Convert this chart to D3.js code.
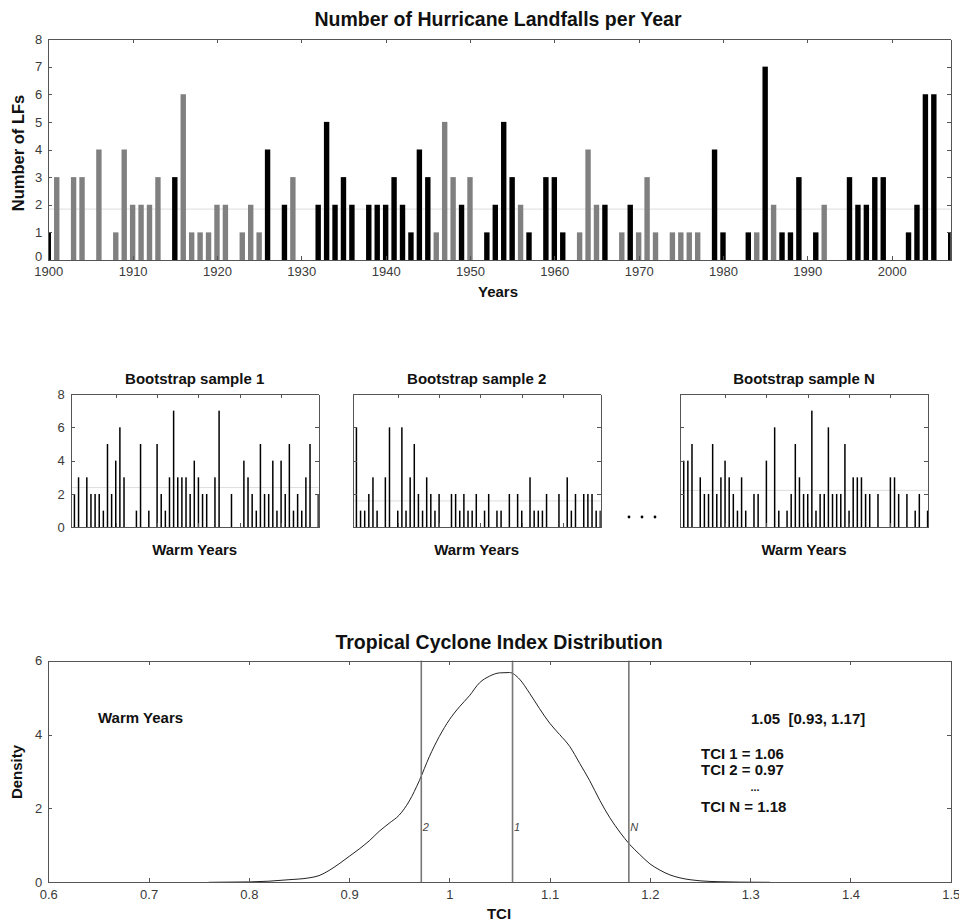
<!DOCTYPE html>
<html>
<head>
<meta charset="utf-8">
<script src="https://cdn.jsdelivr.net/npm/d3@7"></script>
<style>
body { margin: 0; background: #fff; }
svg { font-family: "Liberation Sans", Arial, sans-serif; }
.axis path, .axis line { stroke: #555; shape-rendering: crispEdges; }
.axis text { fill: #3a3a3a; font-size: 13px; font-family: "Liberation Sans", Arial, sans-serif; }
.title { font-weight: bold; font-size: 19.5px; text-anchor: middle; fill: #111; }
.small-title { font-weight: bold; font-size: 15px; text-anchor: middle; fill: #111; }
.lab { font-weight: bold; font-size: 15px; text-anchor: middle; fill: #111; }
.note { font-weight: bold; font-size: 15px; fill: #111; white-space: pre; }
</style>
</head>
<body>
<svg width="959" height="923"></svg>
<script>
// landfalls per year, 1900..2007
var firstYear = 1900, lastYear = 2007;
var landfalls = [1,3,0,3,3,0,4,0,1,4, 2,2,2,3,0,3,6,1,1,1, 2,2,0,1,2,1,4,0,2,3,
                 0,0,2,5,2,3,2,0,2,2, 2,3,2,1,4,3,1,5,3,2, 3,0,1,2,5,3,2,1,0,3,
                 3,1,0,1,4,2,2,0,1,2, 1,3,1,0,1,1,1,1,0,4, 1,0,0,1,1,7,2,1,1,3,
                 0,1,2,0,0,3,2,2,3,3, 0,0,1,2,6,6,0,1];
var warmYears = [1900,1915,1926,1928,1932,1933,1934,1935,1936,1938,1939,1940,1941,1942,
                 1943,1944,1945,1949,1952,1953,1954,1955,1957,1959,1960,1961,1966,1969,
                 1979,1980,1983,1985,1987,1988,1989,1991,1995,1996,1997,1998,1999,2002,
                 2003,2004,2005,2007];
var yearTicks = [1900,1910,1920,1930,1940,1950,1960,1970,1980,1990,2000];

// bootstrap samples of warm years
var sampleTitles = ["Bootstrap sample 1", "Bootstrap sample 2", "Bootstrap sample N"];
var sample1 = [2,3,0,3,2,2,2,1,5,2, 4,6,3,0,0,1,5,0,1,0, 5,2,1,3,7,3,3,3,2,4,
               3,2,2,0,3,7,0,0,2,0, 0,4,3,2,1,5,2,2,4,1, 4,2,5,1,2,1,3,5,0,2];
var sample2 = [6,1,1,2,3,1,0,3,6,0, 1,6,1,3,5,2,1,3,2,1, 2,0,0,2,2,1,2,1,1,2,
               0,1,2,0,1,1,0,2,0,2, 1,0,3,1,1,1,2,0,0,2, 0,3,1,2,0,2,2,2,1,1];
var sampleN = [4,4,5,0,3,2,2,5,2,3, 4,3,2,1,3,1,0,2,2,0, 4,0,6,1,0,1,2,5,3,2,
               2,7,1,2,2,6,2,2,2,5, 1,3,3,3,2,2,0,2,0,0, 3,3,2,0,2,0,1,2,0,1];
var sampleTicks = [0,2,4,6,8];

// TCI density
var tci =     [0.76,0.78,0.80,0.82,0.84,0.86,0.87,0.88,0.89,0.90,0.91,0.92,0.93,0.94,0.95,0.96,
               0.97,0.98,0.99,1.00,1.01,1.02,1.03,1.04,1.05,1.06,1.07,1.08,1.09,1.10,1.11,1.12,
               1.13,1.14,1.15,1.16,1.17,1.18,1.19,1.20,1.21,1.22,1.23,1.24,1.25,1.27,1.29,1.32];
var density = [0,0.005,0.01,0.03,0.07,0.12,0.18,0.32,0.5,0.7,0.9,1.12,1.38,1.6,1.82,2.2,
               2.75,3.4,3.95,4.4,4.75,5.05,5.4,5.58,5.67,5.68,5.5,5.12,4.7,4.31,4.0,3.68,
               3.22,2.75,2.22,1.75,1.36,1.02,0.75,0.5,0.33,0.2,0.12,0.07,0.04,0.015,0.005,0];
var tciMarks = [1.063, 0.972, 1.179];
var tciMarkLabels = ["1", "2", "N"];
var tciTicks = [0.6,0.7,0.8,0.9,1.0,1.1,1.2,1.3,1.4,1.5];
var densityTicks = [0,2,4,6];
var tciNotes = ["TCI 1 = 1.06", "TCI 2 = 0.97", "TCI N = 1.18"];

var svg = d3.select("svg");

function frame(g, x, y, xt, yt, xfmt, yfmt, showY) {
    var x0 = x.range()[0], x1 = x.range()[1], y0 = y.range()[0], y1 = y.range()[1];
    g.append("g").attr("class", "axis").attr("transform", "translate(0," + y0 + ")")
        .call(d3.axisBottom(x).tickValues(xt).tickFormat(xfmt).tickSize(-4).tickSizeOuter(0).tickPadding(7));
    g.append("g").attr("class", "axis").attr("transform", "translate(0," + y1 + ")")
        .call(d3.axisTop(x).tickValues(xt).tickFormat("").tickSize(-4).tickSizeOuter(0));
    var left = g.append("g").attr("class", "axis").attr("transform", "translate(" + x0 + ",0)")
        .call(d3.axisLeft(y).tickValues(yt).tickFormat(showY ? yfmt : "").tickSize(-4).tickSizeOuter(0).tickPadding(6));
    g.append("g").attr("class", "axis").attr("transform", "translate(" + x1 + ",0)")
        .call(d3.axisRight(y).tickValues(yt).tickFormat("").tickSize(-4).tickSizeOuter(0));
    return left;
}

// TOP: landfalls per year
var topG = svg.append("g");
var xYear = d3.scaleLinear().domain([firstYear, lastYear]).range([48.3, 950.7]);
var yLF = d3.scaleLinear().domain([0, 8]).range([260, 39]);
var yearData = landfalls.map(function(v, i) { return {year: firstYear + i, value: v}; });
var barW = (xYear(1) - xYear(0)) * 0.64;

svg.append("clipPath").attr("id", "clipTop").append("rect")
    .attr("x", xYear.range()[0]).attr("y", yLF.range()[1])
    .attr("width", xYear.range()[1] - xYear.range()[0]).attr("height", yLF.range()[0] - yLF.range()[1]);

topG.append("line")
    .attr("x1", xYear.range()[0]).attr("x2", xYear.range()[1])
    .attr("y1", yLF(d3.mean(landfalls))).attr("y2", yLF(d3.mean(landfalls)))
    .attr("stroke", "#ddd").attr("stroke-width", 1);

topG.append("g").attr("clip-path", "url(#clipTop)")
    .selectAll("rect")
    .data(yearData.filter(function(d) { return d.value > 0; }))
    .enter()
    .append("rect")
    .attr("x", function(d) { return xYear(d.year) - barW / 2; })
    .attr("width", barW)
    .attr("y", function(d) { return yLF(d.value); })
    .attr("height", function(d) { return yLF(0) - yLF(d.value); })
    .attr("fill", function(d) { return warmYears.indexOf(d.year) >= 0 ? "#000" : "#808080"; });

var topLeft = frame(topG, xYear, yLF, yearTicks, d3.range(0, 9), d3.format("d"), d3.format("d"), true);
// zero label sits a little above the corner, as in the original
topLeft.selectAll(".tick text").filter(function(d) { return d === 0; }).attr("y", -4);

topG.append("text").attr("class", "title").attr("x", 498).attr("y", 26).text("Number of Hurricane Landfalls per Year");
topG.append("text").attr("class", "lab").attr("x", 498).attr("y", 297).text("Years");
topG.append("text").attr("class", "lab").style("font-size", "16.5px")
    .attr("transform", "translate(24,153) rotate(-90)").text("Number of LFs");

// MIDDLE: bootstrap samples
var samples = [sample1, sample2, sampleN];
var panelLeft = [70.7, 352.7, 680];
var panelW = 248;
var ySample = d3.scaleLinear().domain([0, 8]).range([527.3, 394]);

samples.forEach(function(sample, k) {
    var g = svg.append("g");
    var xs = d3.scaleLinear().domain([-0.9, sample.length - 0.9]).range([panelLeft[k], panelLeft[k] + panelW]);
    var bw = (xs(1) - xs(0)) * 0.36;
    svg.append("clipPath").attr("id", "clipS" + k).append("rect")
        .attr("x", panelLeft[k]).attr("y", 394).attr("width", panelW).attr("height", 527.3 - 394);

    var m = d3.mean(sample);
    g.append("line")
        .attr("x1", xs.range()[0]).attr("x2", xs.range()[1])
        .attr("y1", ySample(m)).attr("y2", ySample(m))
        .attr("stroke", "#ddd").attr("stroke-width", 1);

    g.append("g").attr("clip-path", "url(#clipS" + k + ")")
        .selectAll("rect")
        .data(sample.map(function(v, i) { return {i: i, value: v}; }).filter(function(d) { return d.value > 0; }))
        .enter()
        .append("rect")
        .attr("x", function(d) { return xs(d.i) - bw / 2; })
        .attr("width", bw)
        .attr("y", function(d) { return ySample(d.value); })
        .attr("height", function(d) { return ySample(0) - ySample(d.value); })
        .attr("fill", "#000");

    frame(g, xs, ySample, [10, 20, 30, 40, 50], sampleTicks, "", d3.format("d"), k === 0);

    g.append("text").attr("class", "small-title").attr("x", panelLeft[k] + panelW / 2).attr("y", 384).text(sampleTitles[k]);
    g.append("text").attr("class", "lab").attr("x", panelLeft[k] + panelW / 2).attr("y", 555).text("Warm Years");
});

// ellipsis between sample 2 and sample N
svg.selectAll(".dots").data([629, 642, 655]).enter()
    .append("circle").attr("class", "dots")
    .attr("cx", function(d) { return d; }).attr("cy", 517).attr("r", 1.4).attr("fill", "#000");

// BOTTOM: TCI density
var bot = svg.append("g");
var xT = d3.scaleLinear().domain([0.6, 1.5]).range([48.3, 950.7]);
var yD = d3.scaleLinear().domain([0, 6]).range([882.3, 660.7]);

bot.append("path")
    .datum(tci.map(function(t, i) { return [t, density[i]]; }))
    .attr("fill", "none").attr("stroke", "#222").attr("stroke-width", 1)
    .attr("d", d3.line().x(function(d) { return xT(d[0]); }).y(function(d) { return yD(d[1]); }).curve(d3.curveMonotoneX));

bot.selectAll(".mark").data(tciMarks).enter()
    .append("line").attr("class", "mark")
    .attr("x1", function(d) { return xT(d); }).attr("x2", function(d) { return xT(d); })
    .attr("y1", yD(0)).attr("y2", yD(6))
    .attr("stroke", "#777").attr("stroke-width", 1.6);

bot.selectAll(".markLab").data(tciMarks).enter()
    .append("text").attr("class", "markLab")
    .attr("x", function(d) { return xT(d) + 1.5; }).attr("y", 831)
    .attr("font-size", "11px").attr("font-style", "italic").attr("fill", "#444")
    .text(function(d, i) { return tciMarkLabels[i]; });

frame(bot, xT, yD, tciTicks, densityTicks, function(d) { return String(+d.toFixed(1)); }, d3.format("d"), true);

bot.append("text").attr("class", "title").attr("x", 499).attr("y", 649).text("Tropical Cyclone Index Distribution");
bot.append("text").attr("class", "lab").attr("x", 499).attr("y", 919).text("TCI");
bot.append("text").attr("class", "lab").attr("transform", "translate(22,772) rotate(-90)").text("Density");
bot.append("text").attr("class", "note").attr("x", 98).attr("y", 723).text("Warm Years");
bot.append("text").attr("class", "note").attr("x", 751).attr("y", 724).text("1.05  [0.93, 1.17]");
bot.selectAll(".tciNote").data(tciNotes).enter()
    .append("text").attr("class", "note tciNote")
    .attr("x", 701)
    .attr("y", function(d, i) { return [759, 775, 812][i]; })
    .text(function(d) { return d; });
bot.append("text").attr("class", "note").style("font-size", "11px")
    .attr("x", 755).attr("y", 791).attr("text-anchor", "middle").text("...");
</script>
</body>
</html>
